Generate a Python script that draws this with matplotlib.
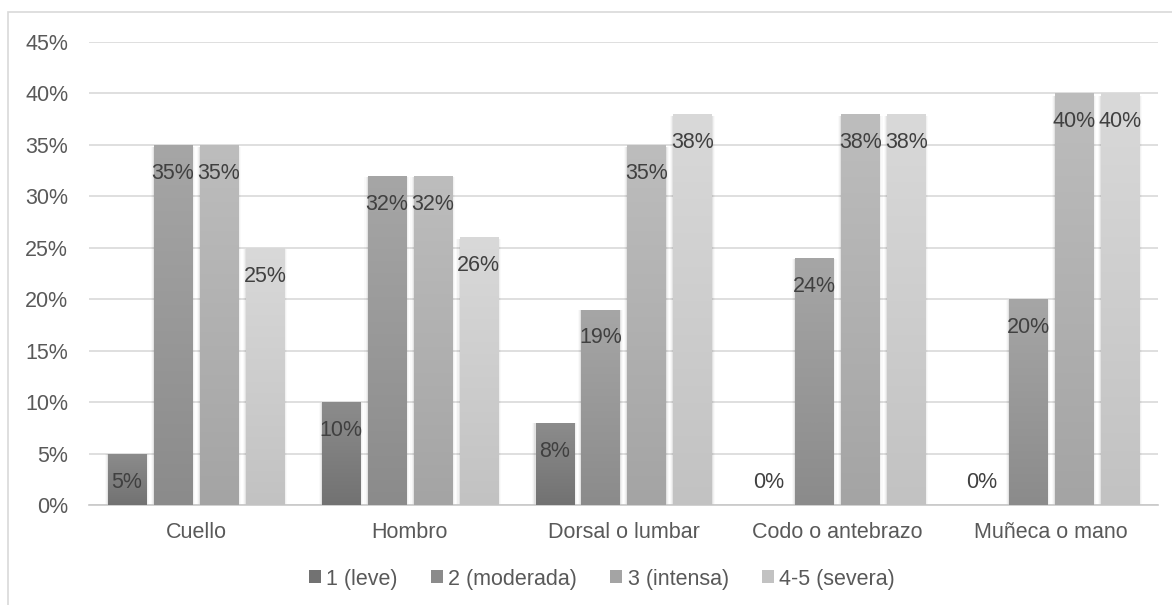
import numpy as np
import matplotlib
matplotlib.use("Agg")
import matplotlib.pyplot as plt
from matplotlib.patches import Patch, Rectangle
from matplotlib.colors import LinearSegmentedColormap
from matplotlib.ticker import MultipleLocator, FuncFormatter

plt.rcParams['font.family'] = ['Liberation Sans', 'DejaVu Sans']

categories = ["Cuello", "Hombro", "Dorsal o lumbar", "Codo o antebrazo", "Muñeca o mano"]
series_names = ["1 (leve)", "2 (moderada)", "3 (intensa)", "4-5 (severa)"]
leve = [0.05, 0.10, 0.08, 0.00, 0.00]
moderada = [0.35, 0.32, 0.19, 0.24, 0.20]
intensa = [0.35, 0.32, 0.35, 0.38, 0.40]
severa = [0.25, 0.26, 0.38, 0.38, 0.40]
series_values = [leve, moderada, intensa, severa]

# (top colour, bottom colour) of each series' vertical gradient
gradients = [("#8c8c8c", "#727272"),
             ("#a6a6a6", "#8b8b8b"),
             ("#bdbdbd", "#a4a4a4"),
             ("#d9d9d9", "#c2c2c2")]

FS = 15.5

fig = plt.figure(figsize=(11.72, 6.05), dpi=100)
ax = fig.add_axes([89 / 1172, 1 - 505 / 605, (1158 - 89) / 1172, (505 - 42) / 605])

x = np.arange(len(categories))
step = 0.215
width = 0.178

ax.set_xlim(-0.5, len(categories) - 0.5)
ax.set_ylim(0, 0.45)

grad = np.linspace(1, 0, 256).reshape(-1, 1)
for i, (vals, name, (ctop, cbot)) in enumerate(zip(series_values, series_names, gradients)):
    pos = x + (i - 1.5) * step
    bars = ax.bar(pos, vals, width, color=cbot, label=name, zorder=3)
    cmap = LinearSegmentedColormap.from_list(f"g{i}", [cbot, ctop])
    for b, v in zip(bars, vals):
        if v <= 0:
            continue
        bx, by = b.get_x(), b.get_y()
        bw, bh = b.get_width(), b.get_height()
        # soft shadow on the sides of the bar
        for k, a in enumerate([0.06, 0.035, 0.02]):
            pad = 0.005 * (k + 1)
            ax.add_patch(Rectangle((bx - pad, by), bw + 2 * pad, bh * 0.995,
                                   facecolor="black", alpha=a, edgecolor="none", zorder=2))
        im = ax.imshow(grad, cmap=cmap, aspect="auto", extent=(bx, bx + bw, by, by + bh),
                       zorder=3.5, interpolation="bicubic")
        im.set_clip_path(b)
    for p, v in zip(pos, vals):
        off = -20.5 if v > 0 else 16.5
        ax.annotate(f"{v * 100:.0f}%", (p, v), xytext=(0, off), textcoords="offset points",
                    ha="center", va="center", fontsize=FS, color="#404040", zorder=5)

ax.yaxis.set_major_locator(MultipleLocator(0.05))
ax.yaxis.set_major_formatter(FuncFormatter(lambda v, _: f"{v * 100:.0f}%"))
ax.grid(axis="y", color="#d9d9d9", linewidth=1.2, zorder=0)
ax.set_axisbelow(True)
ax.set_xticks(x)
ax.set_xticklabels(categories)
ax.tick_params(axis="both", length=0, labelsize=FS, colors="#595959")
ax.tick_params(axis="y", pad=15)
ax.tick_params(axis="x", pad=12)
for s in ["top", "right", "left"]:
    ax.spines[s].set_visible(False)
ax.spines["bottom"].set_color("#c8c8c8")
ax.spines["bottom"].set_linewidth(1.2)

handles = [Patch(facecolor=c[1], edgecolor="none") for c in gradients]
fig.legend(handles, series_names, loc="center", bbox_to_anchor=(602 / 1172, 1 - 579 / 605),
           ncol=4, frameon=False, fontsize=FS, labelcolor="#595959",
           handlelength=0.55, handleheight=0.55, handletextpad=0.25, columnspacing=1.55)

# chart area border
fig.add_artist(Rectangle((8 / 1172, -0.1), 1.2, 1 - 12 / 605 + 0.1, transform=fig.transFigure,
                         facecolor="none", edgecolor="#d9d9d9", linewidth=1.2))

fig.savefig("out.png", dpi=100)
